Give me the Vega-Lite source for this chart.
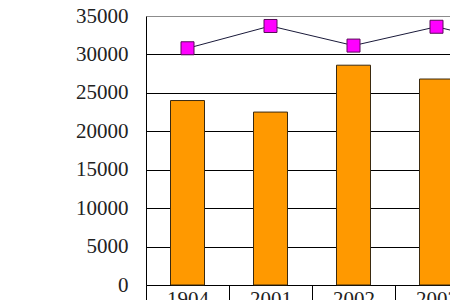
{
  "$schema": "https://vega.github.io/schema/vega-lite/v6.json",
  "width": 304,
  "height": 269,
  "autosize": {"type": "none"},
  "padding": {"left": 146, "top": 16, "right": 0, "bottom": 15},
  "background": "white",
  "config": {
    "view": {"stroke": null},
    "font": "Liberation Serif",
    "axisY": {
      "grid": true,
      "gridWidth": 1,
      "gridOpacity": 1,
      "domainColor": "black",
      "domainWidth": 1,
      "ticks": false,
      "labelPadding": 18,
      "labelFont": "Liberation Serif",
      "labelFontSize": 21,
      "labelColor": "#222222"
    }
  },
  "data": {
    "values": [
      {"year": "1904", "bar": 24000, "line": 30800},
      {"year": "2001", "bar": 22500, "line": 33700},
      {"year": "2002", "bar": 28600, "line": 31150},
      {"year": "2003", "bar": 26800, "line": 33600},
      {"year": "2004", "bar": null, "line": 31000}
    ]
  },
  "encoding": {
    "x": {
      "field": "year",
      "type": "nominal",
      "sort": null,
      "scale": {"type": "band", "range": [0, 415], "paddingInner": 0, "paddingOuter": 0},
      "axis": {
        "title": null,
        "labelAngle": 0,
        "labelFont": "Liberation Serif",
        "labelFontSize": 21,
        "labelColor": "#222222",
        "domainColor": "black",
        "domainWidth": 1,
        "ticks": true,
        "tickBand": "extent",
        "tickSize": 16,
        "tickColor": "black",
        "tickWidth": 1,
        "labelPadding": -13,
        "grid": false
      }
    }
  },
  "layer": [
    {
      "mark": {"type": "bar", "size": 34, "color": "#FF9900", "stroke": "#3a2a10", "strokeWidth": 1},
      "encoding": {
        "y": {
          "field": "bar",
          "type": "quantitative",
          "scale": {"domain": [0, 35000], "nice": false, "zero": true},
          "axis": {"title": null, "format": "d", "values": [0, 5000, 10000, 15000, 20000, 25000, 30000, 35000], "gridColor": {"condition": {"test": "datum.value === 35000", "value": "#8c8c8c"}, "value": "black"}}
        }
      }
    },
    {
      "mark": {"type": "line", "color": "#1a1a3a", "strokeWidth": 1},
      "encoding": {
        "y": {"field": "line", "type": "quantitative", "scale": {"domain": [0, 35000], "nice": false}, "axis": {"title": null, "format": "d", "values": [0, 5000, 10000, 15000, 20000, 25000, 30000, 35000], "gridColor": {"condition": {"test": "datum.value === 35000", "value": "#8c8c8c"}, "value": "black"}}}
      }
    },
    {
      "mark": {"type": "point", "shape": "square", "filled": true, "size": 169, "color": "#FF00FF", "stroke": "#5a0a5a", "strokeWidth": 1, "opacity": 1},
      "encoding": {
        "y": {"field": "line", "type": "quantitative", "scale": {"domain": [0, 35000], "nice": false}, "axis": {"title": null, "format": "d", "values": [0, 5000, 10000, 15000, 20000, 25000, 30000, 35000], "gridColor": {"condition": {"test": "datum.value === 35000", "value": "#8c8c8c"}, "value": "black"}}}
      }
    }
  ]
}
